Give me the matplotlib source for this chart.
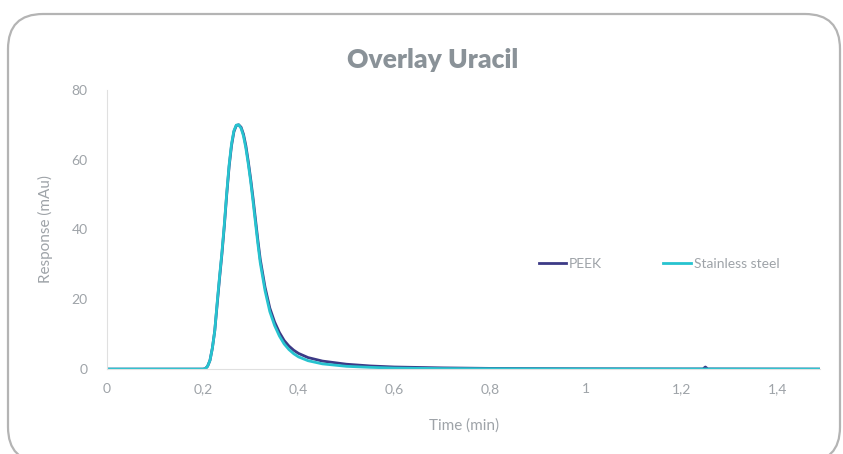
import matplotlib
matplotlib.use("Agg")
import matplotlib.pyplot as plt
from matplotlib.patches import FancyBboxPatch
from matplotlib.ticker import FuncFormatter

# chromatogram values (time in min, response in mAu)
time_peek = [0.0, 0.1, 0.2, 0.205, 0.21, 0.215, 0.22, 0.225, 0.23, 0.235, 0.24, 0.245,
             0.25, 0.255, 0.26, 0.265, 0.27, 0.275, 0.28, 0.285, 0.29, 0.295, 0.30,
             0.305, 0.31, 0.315, 0.32, 0.33, 0.34, 0.35, 0.36, 0.37, 0.38, 0.39, 0.40,
             0.42, 0.45, 0.50, 0.55, 0.60, 0.70, 0.80, 1.0, 1.2, 1.245, 1.25, 1.255,
             1.35, 1.49]
resp_peek = [0.0, 0.0, 0.0, 0.1, 0.8, 2.5, 6.0, 11.0, 18.5, 26.0, 33.0, 41.0,
             50.0, 58.0, 64.0, 68.0, 69.8, 70.0, 69.3, 67.3, 64.0, 59.5, 54.5,
             49.0, 43.0, 37.0, 31.5, 23.5, 17.5, 13.5, 10.5, 8.2, 6.6, 5.4, 4.5,
             3.3, 2.3, 1.4, 0.9, 0.6, 0.35, 0.2, 0.1, 0.05, 0.05, 0.6, 0.05,
             0.03, 0.0]

time_steel = [0.0, 0.1, 0.2, 0.205, 0.21, 0.215, 0.22, 0.225, 0.23, 0.235, 0.24, 0.245,
              0.25, 0.255, 0.26, 0.265, 0.27, 0.275, 0.28, 0.285, 0.29, 0.295, 0.30,
              0.305, 0.31, 0.315, 0.32, 0.33, 0.34, 0.35, 0.36, 0.37, 0.38, 0.39, 0.40,
              0.42, 0.45, 0.50, 0.55, 0.60, 0.70, 0.80, 1.0, 1.2, 1.35, 1.49]
resp_steel = [0.0, 0.0, 0.0, 0.1, 0.8, 2.5, 6.0, 11.0, 19.0, 26.5, 33.5, 41.5,
              50.5, 58.5, 64.5, 68.3, 69.9, 70.0, 69.0, 66.8, 63.3, 58.8, 53.8,
              48.0, 42.0, 36.0, 30.5, 22.5, 16.5, 12.5, 9.5, 7.2, 5.6, 4.4, 3.5,
              2.4, 1.5, 0.8, 0.5, 0.3, 0.15, 0.1, 0.05, 0.03, 0.02, 0.0]

series_names = ["PEEK", "Stainless steel"]
x_ticks = [0, 0.2, 0.4, 0.6, 0.8, 1.0, 1.2, 1.4]
y_ticks = [0, 20, 40, 60, 80]

text_grey = "#9ea3a8"
title_grey = "#8a9298"

plt.rcParams["font.family"] = ["Lato", "DejaVu Sans"]
fig = plt.figure(figsize=(8.43, 4.54), dpi=100)

# rounded card border, behind everything
card = FancyBboxPatch((0.08, -0.08), 8.32, 4.48,
                      boxstyle="round,pad=0,rounding_size=0.35",
                      transform=fig.dpi_scale_trans, facecolor="white",
                      edgecolor="#b4b4b4", linewidth=1.6, zorder=-5)
fig.patches.append(card)

ax = fig.add_axes([0.127, 0.187, 0.846, 0.615])
ax.set_facecolor("none")

ax.plot(time_peek, resp_peek, color="#3c3a86", linewidth=2.0, label=series_names[0])
ax.plot(time_steel, resp_steel, color="#27c3cf", linewidth=2.0, label=series_names[1])

ax.set_xlim(0, 1.49)
ax.set_ylim(0, 80)
ax.set_xticks(x_ticks)
ax.set_yticks(y_ticks)
ax.xaxis.set_major_formatter(FuncFormatter(lambda v, p: f"{v:g}".replace(".", ",")))
ax.tick_params(length=0, colors=text_grey, labelsize=10)
ax.tick_params(axis="x", pad=10)
ax.tick_params(axis="y", pad=14)

for side in ["top", "right"]:
    ax.spines[side].set_visible(False)
ax.spines["left"].set_color("#e0e0e0")
ax.spines["bottom"].set_color("#e0e0e0")

ax.set_xlabel("Time (min)", color=text_grey, fontsize=11, labelpad=17)
ax.set_ylabel("Response (mAu)", color=text_grey, fontsize=11, labelpad=13)

fig.text(0.513, 0.868, "Overlay Uracil", ha="center", va="center",
         fontsize=19, fontweight="heavy", color=title_grey)

leg = ax.legend(loc="center", bbox_to_anchor=(0.774, 0.376), ncol=2, frameon=False,
                handlelength=2.0, handletextpad=0.2, columnspacing=4.4, fontsize=10)
for t in leg.get_texts():
    t.set_color(text_grey)

fig.savefig("out.png", dpi=100)
